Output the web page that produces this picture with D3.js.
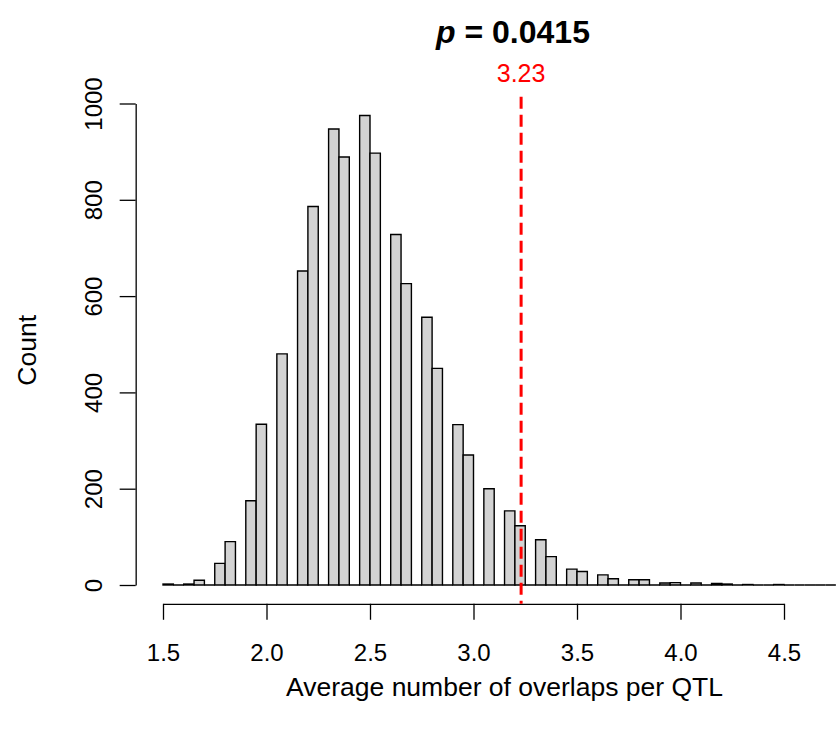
<!DOCTYPE html>
<html>
<head>
<meta charset="utf-8">
<script src="https://cdn.jsdelivr.net/npm/d3@7"></script>
<style>
  html, body { margin: 0; padding: 0; background: #fff; }
  svg { display: block; }
  text { font-family: "Liberation Sans", Arial, Helvetica, sans-serif; }
</style>
</head>
<body>
<svg id="chart" width="836" height="735"></svg>
<script>
// Histogram bins: left edge of the first bin and the bin width
const binStart = 1.5;
const binWidth = 0.05;
// Simulated counts per bin (1.50-1.55, 1.55-1.60, ...)
const counts = [
  2, 0, 2, 10, 0, 45, 90, 0, 175, 334,
  0, 480, 0, 652, 786, 0, 947, 889, 0, 975,
  897, 0, 728, 626, 0, 556, 450, 0, 333, 270,
  0, 200, 0, 154, 123, 0, 94, 59, 0, 33,
  28, 0, 21, 13, 0, 11, 11, 0, 4, 5,
  0, 4, 0, 3, 2, 0, 1, 0, 0, 1,
  0, 0, 0, 0, 0, 0
];
// Observed statistic and its permutation p-value
const observed = 3.23;
const pValue = "0.0415";
// Axis ticks
const xTicks = [1.5, 2.0, 2.5, 3.0, 3.5, 4.0, 4.5];
const yTicks = [0, 200, 400, 600, 800, 1000];
const xLabel = "Average number of overlaps per QTL";
const yLabel = "Count";

const svg = d3.select("#chart");

const bins = counts.map((c, i) => ({
  x0: binStart + i * binWidth,
  x1: binStart + (i + 1) * binWidth,
  count: c
}));

// Scales: data -> pixels
const x = d3.scaleLinear().domain([1.5, 4.5]).range([163, 784]);
const y = d3.scaleLinear().domain([0, 1000]).range([585, 103.5]);

// Plot region, padded 4% beyond the data range on every side
const xMin = bins[0].x0, xMax = bins[bins.length - 1].x1;
const yMax = d3.max(counts);
const padX = 0.04 * (xMax - xMin), padY = 0.04 * yMax;
const plotLeft = x(xMin - padX), plotRight = x(xMax + padX);
const plotTop = y(yMax + padY), plotBottom = y(-padY);
const plotCX = (plotLeft + plotRight) / 2;
const plotCY = (plotTop + plotBottom) / 2;

// Bars as closed paths, so empty bins still leave their outline on the baseline
svg.append("g")
  .selectAll("path")
  .data(bins)
  .join("path")
  .attr("d", d => {
    const p = d3.path();
    p.rect(x(d.x0), y(d.count), x(d.x1) - x(d.x0), y(0) - y(d.count));
    return p.toString();
  })
  .attr("fill", "#d3d3d3")
  .attr("stroke", "#000")
  .attr("stroke-width", 1.4);

// X axis
const xAxis = svg.append("g")
  .attr("transform", `translate(0,${plotBottom})`)
  .call(d3.axisBottom(x).tickValues(xTicks).tickFormat(d3.format(".1f"))
    .tickSizeInner(16).tickSizeOuter(0).tickPadding(24));
xAxis.select(".domain").attr("stroke", "#000").attr("stroke-width", 1.3);
xAxis.selectAll(".tick line").attr("stroke", "#000").attr("stroke-width", 1.3);
xAxis.selectAll(".tick text").attr("font-size", 24).attr("fill", "#000")
  .attr("font-family", "Liberation Sans, Arial, sans-serif");

// Y axis with labels parallel to the axis
const yAxis = svg.append("g")
  .attr("transform", `translate(${plotLeft},0)`)
  .call(d3.axisLeft(y).tickValues(yTicks).tickFormat(d3.format("d"))
    .tickSizeInner(16).tickSizeOuter(0));
yAxis.select(".domain").attr("stroke", "#000").attr("stroke-width", 1.3);
yAxis.selectAll(".tick line").attr("stroke", "#000").attr("stroke-width", 1.3);
yAxis.selectAll(".tick text")
  .attr("font-size", 24).attr("fill", "#000")
  .attr("font-family", "Liberation Sans, Arial, sans-serif")
  .attr("x", null).attr("dy", null)
  .attr("text-anchor", "middle")
  .attr("transform", `translate(${102 - plotLeft},0) rotate(-90)`);

// Axis titles
svg.append("text")
  .attr("x", plotCX).attr("y", 696)
  .attr("text-anchor", "middle").attr("font-size", 26.5).attr("fill", "#000")
  .text(xLabel);
svg.append("text")
  .attr("transform", `translate(36,${plotCY}) rotate(-90)`)
  .attr("text-anchor", "middle").attr("font-size", 26.5).attr("fill", "#000")
  .text(yLabel);

// Observed value: dashed red line with its value above the plot
svg.append("line")
  .attr("x1", x(observed)).attr("x2", x(observed))
  .attr("y1", plotTop).attr("y2", plotBottom)
  .attr("stroke", "#ff0000").attr("stroke-width", 3)
  .attr("stroke-dasharray", "12,6");
svg.append("text")
  .attr("x", x(observed)).attr("y", 81.5)
  .attr("text-anchor", "middle").attr("font-size", 25).attr("fill", "#ff0000")
  .text(observed.toFixed(2));

// Title: bold, with an italic p
const title = svg.append("text")
  .attr("x", 513).attr("y", 43)
  .attr("text-anchor", "middle").attr("font-size", 32)
  .attr("font-weight", "bold").attr("fill", "#000");
title.append("tspan").attr("font-style", "italic").text("p");
title.append("tspan").text(" = " + pValue);
</script>
</body>
</html>
